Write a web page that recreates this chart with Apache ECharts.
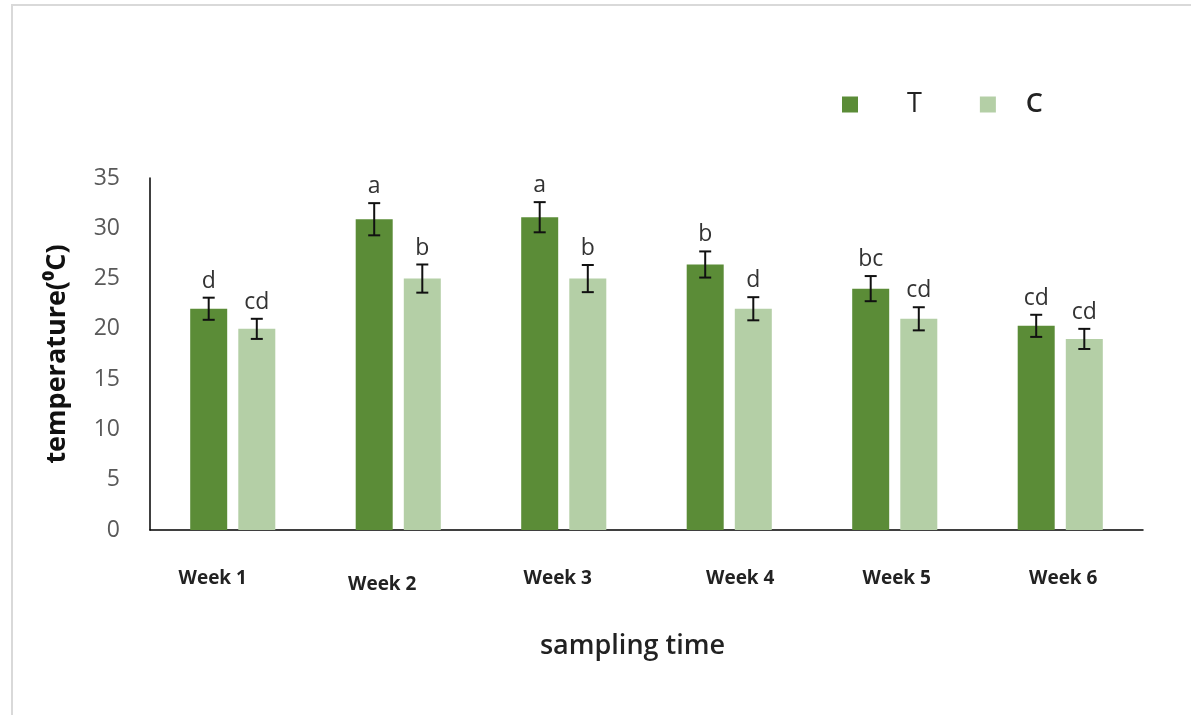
<!DOCTYPE html>
<html>
<head>
<meta charset="utf-8">
<script src="https://cdn.jsdelivr.net/npm/echarts@6/dist/echarts.min.js"></script>
<style>
  html, body { margin: 0; padding: 0; background: #fff; }
  #chart { width: 1191px; height: 715px; }
</style>
</head>
<body>
<div id="chart"></div>
<script>
// Sampling weeks and the two treatments (T and C)
const categories = ['Week 1', 'Week 2', 'Week 3', 'Week 4', 'Week 5', 'Week 6'];
const seriesNames = ['T', 'C'];

// Mean temperature (°C) per week
const tValues = [22.0, 30.9, 31.1, 26.4, 24.0, 20.3];
const cValues = [20.0, 25.0, 25.0, 22.0, 21.0, 19.0];

// Standard error per week
const tErrors = [1.1, 1.6, 1.5, 1.3, 1.25, 1.1];
const cErrors = [1.0, 1.4, 1.35, 1.15, 1.15, 1.0];

// Significance letters
const tLetters = ['d', 'a', 'a', 'b', 'bc', 'cd'];
const cLetters = ['cd', 'b', 'b', 'd', 'cd', 'cd'];

// Y axis range
const yMin = 0, yMax = 35, yStep = 5;

const colorT = '#5B8C37';
const colorC = '#B4CFA6';
const barWidth = 37;
const barGapPct = 30;
const halfSpan = (barWidth + barWidth * barGapPct / 100) / 2;

// Per-label nudges of the week labels (horizontal, vertical), in px
const labelShift = [[-20, 0], [-16, 3], [-6, 0], [11, -2], [2, -1], [3, -1]];

function errorRenderer(offset, letters) {
  return function (params, api) {
    const idx = api.value(0);
    const v = api.value(1);
    const e = api.value(2);
    const x = api.coord([idx, 0])[0] + offset;
    const yHi = api.coord([idx, v + e])[1];
    const yLo = api.coord([idx, v - e])[1];
    const cap = 6;
    const lineStyle = { stroke: '#111', lineWidth: 2 };
    return {
      type: 'group',
      children: [
        { type: 'line', shape: { x1: x, y1: yHi, x2: x, y2: yLo }, style: lineStyle },
        { type: 'line', shape: { x1: x - cap, y1: yHi, x2: x + cap, y2: yHi }, style: lineStyle },
        { type: 'line', shape: { x1: x - cap, y1: yLo, x2: x + cap, y2: yLo }, style: lineStyle },
        {
          type: 'text',
          style: {
            text: letters[params.dataIndex],
            x: x, y: yHi - 5,
            align: 'center', verticalAlign: 'bottom',
            font: '23px "Open Sans"',
            fill: '#333'
          }
        }
      ]
    };
  };
}

const chart = echarts.init(document.getElementById('chart'));
chart.setOption({
  backgroundColor: '#fff',
  animation: false,
  graphic: [{
    type: 'rect',
    shape: { x: 12, y: 5, width: 1200, height: 730 },
    style: { fill: 'none', stroke: '#d9d9d9', lineWidth: 2 },
    z: -1
  }],
  legend: {
    data: [
      { name: seriesNames[0], textStyle: { padding: [0, 0, 0, 44] } },
      { name: seriesNames[1], textStyle: { padding: [0, 0, 0, 25], fontWeight: 600 } }
    ],
    left: 837,
    top: 86,
    itemWidth: 16,
    itemHeight: 16,
    itemGap: 58,
    icon: 'rect',
    textStyle: {
      fontFamily: 'Open Sans',
      fontSize: 27,
      color: '#222'
    }
  },
  grid: { left: 150, right: 48, top: 178, bottom: 185, containLabel: false },
  xAxis: {
    type: 'category',
    data: categories.map((c, i) => ({
      value: c,
      textStyle: {
        padding: [
          Math.max(0, labelShift[i][1]) * 2,
          Math.max(0, -labelShift[i][0]) * 2,
          Math.max(0, -labelShift[i][1]) * 2,
          Math.max(0, labelShift[i][0]) * 2
        ]
      }
    })),
    axisLine: { lineStyle: { color: '#000', width: 1.5 } },
    axisTick: { show: false },
    axisLabel: {
      margin: 39,
      fontFamily: 'Open Sans',
      fontWeight: 'bold',
      fontSize: 19,
      color: '#222',
      interval: 0
    },
    name: 'sampling time',
    nameLocation: 'middle',
    nameGap: 103,
    nameTextStyle: {
      fontFamily: 'Open Sans',
      fontWeight: 600,
      fontSize: 27,
      color: '#222',
      padding: [0, 28, 0, 0]
    }
  },
  yAxis: {
    type: 'value',
    min: yMin,
    max: yMax,
    interval: yStep,
    axisLine: { show: true, lineStyle: { color: '#000', width: 1.5 } },
    axisTick: { show: false },
    splitLine: { show: false },
    axisLabel: {
      margin: 30,
      fontFamily: 'Open Sans',
      fontSize: 23,
      color: '#595959'
    },
    name: 'temperature(\u2070C)',
    nameLocation: 'middle',
    nameRotate: 90,
    nameGap: 79,
    nameTextStyle: {
      fontFamily: 'Open Sans',
      fontWeight: 'bold',
      fontSize: 27,
      color: '#111'
    }
  },
  series: [
    {
      name: 'T',
      type: 'bar',
      data: tValues,
      barWidth: barWidth,
      barGap: barGapPct + '%',
      itemStyle: { color: colorT }
    },
    {
      name: 'C',
      type: 'bar',
      data: cValues,
      barWidth: barWidth,
      itemStyle: { color: colorC }
    },
    {
      type: 'custom',
      renderItem: errorRenderer(-halfSpan, tLetters),
      data: categories.map((c, i) => [i, tValues[i], tErrors[i]]),
      encode: { x: 0, y: 1 },
      z: 10
    },
    {
      type: 'custom',
      renderItem: errorRenderer(halfSpan, cLetters),
      data: categories.map((c, i) => [i, cValues[i], cErrors[i]]),
      encode: { x: 0, y: 1 },
      z: 10
    }
  ]
});
</script>
</body>
</html>
